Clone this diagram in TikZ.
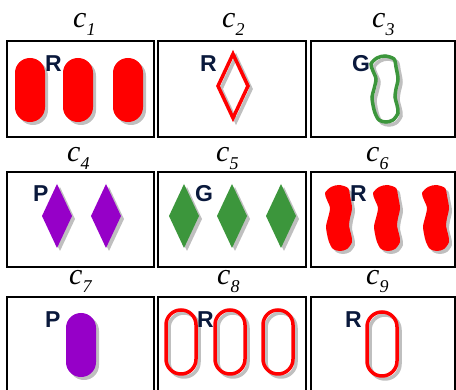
\documentclass[tikz,border=0pt]{standalone}
\usepackage{fontspec}
\setmainfont{Liberation Serif}
\newfontfamily\cardfont{Liberation Sans}

\definecolor{setred}{RGB}{255,0,0}
\definecolor{setpurple}{RGB}{150,0,200}
\definecolor{setgreen}{RGB}{60,150,60}
\definecolor{setnavy}{RGB}{10,25,60}

% card name: italic c with lowered index
\newcommand{\cname}[1]{c\raisebox{-8pt}{\fontsize{18}{18}\selectfont #1}}

% shapes: x, y, fill style (solid/hollow), colour
\newcommand{\setoval}[4]{%
  \path[#3=black!25, rounded corners=14.9pt, shift={(#1+3,#2+3)}] (-15,-32) rectangle (15,32);
  \path[#3=#4, rounded corners=14.9pt, shift={(#1,#2)}] (-15,-32) rectangle (15,32);}
\newcommand{\setdiamond}[4]{%
  \path[#3=black!25, shift={(#1+3,#2+3)}] (0,-32) -- (15,0) -- (0,32) -- (-15,0) -- cycle;
  \path[#3=#4, shift={(#1,#2)}] (0,-32) -- (15,0) -- (0,32) -- (-15,0) -- cycle;}
\newcommand{\squigpath}{plot[smooth cycle] coordinates {(0,-33) (9,-30) (11,-22) (13,-10) (11,0) (10,8) (12,16) (13,24) (8,31) (1,33) (-6,31) (-10,24) (-12,16) (-13,8) (-11,0) (-9,-10) (-12,-18) (-14,-25) (-8,-31)}}
\newcommand{\setsquig}[4]{%
  \path[#3=black!25, shift={(#1+3,#2+3)}] \squigpath;
  \path[#3=#4, shift={(#1,#2)}] \squigpath;}

\begin{document}
\begin{tikzpicture}[
    x=1pt, y=-1pt,
    card/.style={draw, line width=2pt},
    lbl/.style={font=\fontsize{30}{30}\selectfont\itshape, inner sep=0pt, anchor=base west},
    colr/.style={font=\cardfont\bfseries\fontsize{23}{23}\selectfont, text=setnavy, inner sep=0pt, anchor=base west},
    solid/.style={fill=#1},
    hollow/.style={draw=#1, line width=3.5pt}
]
  \useasboundingbox (0,0) rectangle (456,390);

  % Card frames
  \draw[card] (7,41) rectangle (154,137);
  \draw[card] (158,41) rectangle (306,137);
  \draw[card] (311,41) rectangle (455,137);
  \draw[card] (7,172) rectangle (154,267);
  \draw[card] (158,172) rectangle (306,267);
  \draw[card] (311,172) rectangle (455,267);
  \draw[card] (7,297) rectangle (154,391);
  \draw[card] (158,297) rectangle (306,391);
  \draw[card] (311,297) rectangle (455,391);

  % Card names
  \node[lbl] (l1) at (73,28) {\cname{1}};
  \node[lbl] (l2) at (222,28) {\cname{2}};
  \node[lbl] (l3) at (372,28) {\cname{3}};
  \node[lbl] (l4) at (67,162) {\cname{4}};
  \node[lbl] (l5) at (216,162) {\cname{5}};
  \node[lbl] (l6) at (366,162) {\cname{6}};
  \node[lbl] (l7) at (69,285) {\cname{7}};
  \node[lbl] (l8) at (217,285) {\cname{8}};
  \node[lbl] (l9) at (366,285) {\cname{9}};

  % Row 1
  \setoval{30}{90}{solid}{setred}
  \setoval{78}{90}{solid}{setred}
  \setoval{128}{90}{solid}{setred}
  \setdiamond{233}{86}{hollow}{setred}
  \setsquig{385}{89}{hollow}{setgreen}

  % Row 2
  \setdiamond{57}{216}{solid}{setpurple}
  \setdiamond{106}{216}{solid}{setpurple}
  \setdiamond{184}{216}{solid}{setgreen}
  \setdiamond{232}{216}{solid}{setgreen}
  \setdiamond{281}{216}{solid}{setgreen}
  \setsquig{339}{218}{solid}{setred}
  \setsquig{387}{218}{solid}{setred}
  \setsquig{436}{218}{solid}{setred}

  % Row 3
  \setoval{81}{345}{solid}{setpurple}
  \setoval{181}{342}{hollow}{setred}
  \setoval{230}{342}{hollow}{setred}
  \setoval{278}{342}{hollow}{setred}
  \setoval{382}{344}{hollow}{setred}

  % Colour letters
  \node[colr] (s1) at (45,72) {R};
  \node[colr] (s2) at (200,72) {R};
  \node[colr] (s3) at (352,72) {G};
  \node[colr] (s4) at (33,202) {P};
  \node[colr] (s5) at (195,202) {G};
  \node[colr] (s6) at (350,202) {R};
  \node[colr] (s7) at (45,328) {P};
  \node[colr] (s8) at (197,328) {R};
  \node[colr] (s9) at (345,328) {R};
\end{tikzpicture}
\end{document}
